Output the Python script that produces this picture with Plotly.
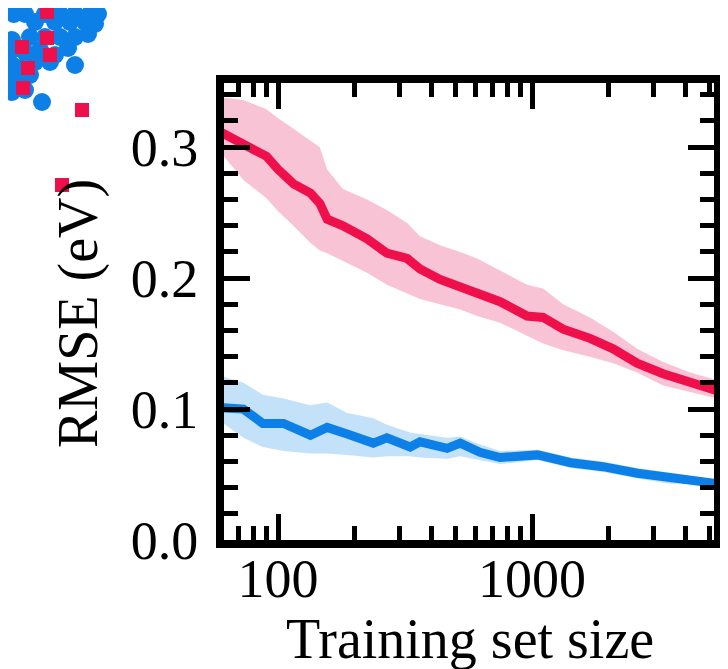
import plotly.graph_objects as go

# ---------------- data ----------------
red_n = [60, 73, 90, 100, 115, 134, 146, 156, 180, 224, 268, 322, 362, 434, 521, 607, 748,
         955, 1105, 1325, 1690, 2084, 2589, 3278, 4190, 5350]
red_mean = [0.311, 0.303, 0.293, 0.283, 0.272, 0.265, 0.257, 0.245, 0.240, 0.230, 0.219, 0.215,
            0.207, 0.199, 0.193, 0.189, 0.182, 0.171, 0.170, 0.161, 0.154, 0.146, 0.135, 0.127,
            0.120, 0.114]
red_upper = [0.338, 0.336, 0.329, 0.322, 0.314, 0.305, 0.300, 0.283, 0.268, 0.260, 0.252, 0.242,
             0.232, 0.225, 0.220, 0.215, 0.206, 0.195, 0.192, 0.180, 0.170, 0.159, 0.146, 0.136,
             0.128, 0.122]
red_lower = [0.295, 0.275, 0.261, 0.251, 0.240, 0.227, 0.221, 0.219, 0.213, 0.204, 0.195, 0.188,
             0.184, 0.180, 0.176, 0.171, 0.166, 0.156, 0.150, 0.145, 0.140, 0.135, 0.128, 0.118,
             0.113, 0.108]

blue_n = [60, 73, 87, 105, 134, 156, 187, 237, 268, 331, 362, 463, 521, 623, 748, 1050, 1420,
          1900, 2600, 3500, 4200, 5350]
blue_mean = [0.101, 0.100, 0.089, 0.089, 0.080, 0.086, 0.081, 0.074, 0.078, 0.071, 0.075, 0.070,
             0.074, 0.067, 0.063, 0.065, 0.059, 0.056, 0.051, 0.047, 0.046, 0.043]
blue_upper = [0.125, 0.120, 0.111, 0.108, 0.103, 0.105, 0.097, 0.093, 0.088, 0.082, 0.081, 0.078,
              0.079, 0.073, 0.068, 0.069, 0.063, 0.060, 0.055, 0.051, 0.049, 0.046]
blue_lower = [0.090, 0.078, 0.071, 0.068, 0.066, 0.066, 0.065, 0.063, 0.064, 0.064, 0.063, 0.062,
              0.064, 0.061, 0.058, 0.061, 0.055, 0.052, 0.047, 0.043, 0.043, 0.040]

x_tick_vals = [100, 1000]
x_tick_text = ["100", "1000"]
x_minor_vals = [60, 70, 80, 90, 200, 300, 400, 500, 600, 700, 800, 900, 2000, 3000, 4000, 5000]

# cropped neighbouring panel in the top-left corner (page-pixel units)
inset_blue_x = [14, 25, 45, 60, 75, 90, 98, 35, 55, 70, 85, 95, 12, 30, 45, 60, 75, 88,
                12, 25, 40, 55, 68, 12, 20, 35, 50, 75, 12, 18, 30, 12, 25, 42]
inset_blue_y = [14, 14, 14, 14, 14, 14, 14, 22, 22, 22, 22, 24, 40, 37, 37, 37, 37, 34,
                50, 52, 50, 55, 48, 65, 68, 62, 62, 65, 80, 82, 75, 92, 90, 102]
inset_red_x = [47, 47, 22, 50, 28, 23, 82, 62]
inset_red_y = [12, 38, 47, 55, 68, 88, 110, 185]

RED = "#EE0F4B"
RED_BAND = "rgba(248,190,210,0.92)"
BLUE = "#0C80E6"
BLUE_BAND = "rgba(190,222,248,0.92)"
FONT = "Liberation Serif"

fig = go.Figure()

fig.add_trace(go.Scatter(x=red_n, y=red_upper, mode="lines", line=dict(width=0, color=RED_BAND),
                         showlegend=False, hoverinfo="skip"))
fig.add_trace(go.Scatter(x=red_n, y=red_lower, mode="lines", line=dict(width=0, color=RED_BAND),
                         fill="tonexty", fillcolor=RED_BAND, showlegend=False, hoverinfo="skip"))
fig.add_trace(go.Scatter(x=blue_n, y=blue_upper, mode="lines", line=dict(width=0, color=BLUE_BAND),
                         showlegend=False, hoverinfo="skip"))
fig.add_trace(go.Scatter(x=blue_n, y=blue_lower, mode="lines", line=dict(width=0, color=BLUE_BAND),
                         fill="tonexty", fillcolor=BLUE_BAND, showlegend=False, hoverinfo="skip"))
fig.add_trace(go.Scatter(x=red_n, y=red_mean, mode="lines", line=dict(width=9, color=RED),
                         showlegend=False))
fig.add_trace(go.Scatter(x=blue_n, y=blue_mean, mode="lines", line=dict(width=9, color=BLUE),
                         showlegend=False))

OFF = 8  # default page (body) margin of the browser
W, H = 728 - OFF, 669 - OFF
# inner plot edges in page pixels
PL, PR, PT, PB = 224, 714, 83, 540
L, R, T, B = PL - OFF, PR - OFF, PT - OFF, PB - OFF
PW, PH = R - L, B - T


def px_x(page_x):
    return (page_x - OFF - L) / PW


def px_y(page_y):
    return (B - (page_y - OFF)) / PH


shapes = []
rb = 9
for bx, by in zip(inset_blue_x, inset_blue_y):
    shapes.append(dict(type="circle", xref="paper", yref="paper",
                       x0=px_x(bx - rb), x1=px_x(bx + rb), y0=px_y(by + rb), y1=px_y(by - rb),
                       fillcolor=BLUE, line=dict(width=0), layer="above"))
rs = 7
for sx, sy in zip(inset_red_x, inset_red_y):
    shapes.append(dict(type="rect", xref="paper", yref="paper",
                       x0=px_x(sx - rs), x1=px_x(sx + rs), y0=px_y(sy + rs), y1=px_y(sy - rs),
                       fillcolor=RED, line=dict(width=0), layer="above"))

axis_common = dict(
    showline=True, linecolor="black", linewidth=8, mirror="allticks",
    ticks="inside", ticklen=26, tickwidth=5, tickcolor="black",
    showgrid=False, zeroline=False,
    tickfont=dict(family=FONT, size=54, color="black"),
)

fig.update_layout(
    width=W, height=H,
    margin=dict(l=L, r=W - R, t=T, b=H - B, pad=0, autoexpand=False),
    paper_bgcolor="white", plot_bgcolor="white",
    showlegend=False,
    xaxis=dict(type="log", range=[1.787, 3.716], tickvals=x_tick_vals, ticktext=x_tick_text,
               minor=dict(tickvals=x_minor_vals, ticklen=14, tickwidth=5, tickcolor="black",
                          ticks="inside", showgrid=False),
               ticklabelstandoff=-16, **axis_common),
    yaxis=dict(range=[0, 0.349], dtick=0.1, tick0=0, tickformat=".1f",
               minor=dict(dtick=0.02, ticklen=14, tickwidth=5, tickcolor="black",
                          ticks="inside", showgrid=False),
               ticklabelstandoff=7, **axis_common),
    shapes=shapes,
    annotations=[
        dict(text="Training set size", xref="paper", yref="paper",
             x=px_x(470), y=px_y(639), xanchor="center", yanchor="middle",
             showarrow=False, font=dict(family=FONT, size=56, color="black")),
        dict(text="RMSE (eV)", xref="paper", yref="paper", textangle=-90,
             x=px_x(78), y=px_y(314), xanchor="center", yanchor="middle",
             showarrow=False, font=dict(family=FONT, size=56, color="black")),
    ],
)

fig.write_html("out.html")
